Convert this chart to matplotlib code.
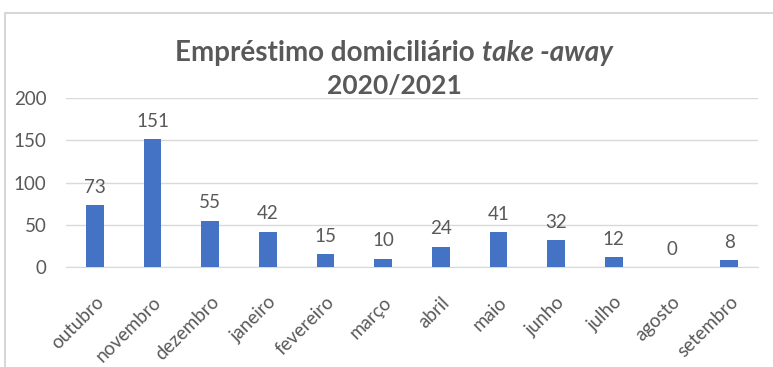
#!/usr/bin/env python3
"""Monthly take-away home loans bar chart, 2020/2021."""

import matplotlib

matplotlib.use("Agg")

import matplotlib.pyplot as plt
from matplotlib.patches import Rectangle

months = ["outubro", "novembro", "dezembro", "janeiro", "fevereiro", "março",
          "abril", "maio", "junho", "julho", "agosto", "setembro"]
loans = [73, 151, 55, 42, 15, 10, 24, 41, 32, 12, 0, 8]
y_ticks = [0, 50, 100, 150, 200]

TEXT = "#595959"
BAR = "#4472C4"
GRID = "#D9D9D9"

plt.rcParams["font.family"] = ["Lato", "DejaVu Sans"]

fig = plt.figure(figsize=(7.73, 3.67), dpi=100)
frame = Rectangle((5 / 773, -0.1), 1.2, (367 - 13) / 367 + 0.1,
                  transform=fig.transFigure, facecolor="white",
                  edgecolor="#D0D0D0", linewidth=1.2, zorder=-5)
fig.patches.append(frame)

ax = fig.add_axes([66 / 773, (367 - 267) / 367, 692 / 773, 169 / 367])
ax.set_zorder(2)
x = range(len(months))
bars = ax.bar(x, loans, width=0.31, color=BAR, zorder=3)
for xi, v in zip(x, loans):
    ax.text(xi, v + 11, str(v), ha="center", va="bottom", fontsize=13.5, color=TEXT)

ax.set_xlim(-0.5, len(months) - 0.5)
ax.set_ylim(0, 200)
ax.set_yticks(y_ticks)
ax.set_yticklabels([str(t) for t in y_ticks], fontsize=13.5, color=TEXT)
ax.set_xticks(list(x))
ax.set_xticklabels(months, rotation=45, ha="right", rotation_mode="anchor",
                   fontsize=13.5, color=TEXT)
ax.tick_params(axis="y", length=0, pad=14)
ax.tick_params(axis="x", length=0, pad=19)
ax.grid(axis="y", color=GRID, linewidth=1, zorder=0)
for side in ("top", "right", "left"):
    ax.spines[side].set_visible(False)
ax.spines["bottom"].set_color(GRID)
ax.patch.set_alpha(0)

# two-part title line: regular text followed by italic text, centred as a whole
fig.canvas.draw()
renderer = fig.canvas.get_renderer()
y1 = (367 - 53) / 367
cx = 394 / 773
part_a = fig.text(0, y1, "Empréstimo domiciliário ", fontsize=20, fontweight="bold",
                  color=TEXT, va="center", ha="left")
part_b = fig.text(0, y1, "take -away", fontsize=20, fontweight="bold", style="italic",
                  color=TEXT, va="center", ha="left")
wa = part_a.get_window_extent(renderer).width / fig.bbox.width
wb = part_b.get_window_extent(renderer).width / fig.bbox.width
start = cx - (wa + wb) / 2
part_a.set_x(start)
part_b.set_x(start + wa)
fig.text(cx, (367 - 86) / 367, "2020/2021", fontsize=19, fontweight="bold",
         color=TEXT, va="center", ha="center")

fig.savefig("out.png", dpi=100, facecolor="white")
